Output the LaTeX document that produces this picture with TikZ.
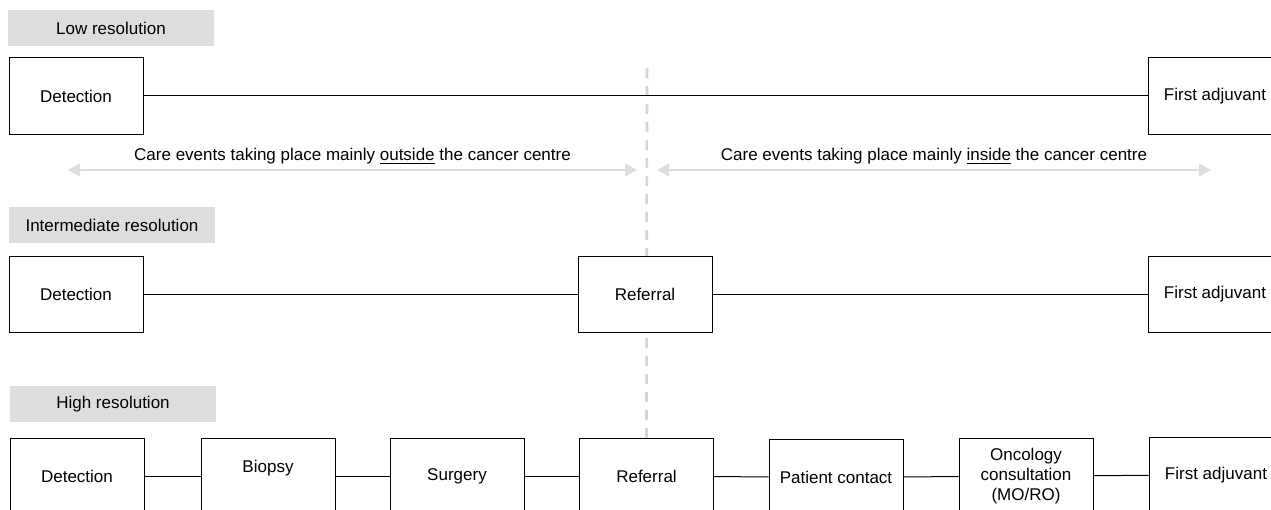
\documentclass[tikz,border=0pt]{standalone}
\usepackage{fontspec}
\setmainfont{Liberation Sans}
\usepackage{tikz}
\usetikzlibrary{arrows.meta,backgrounds}
\definecolor{tagfill}{HTML}{DDDDDD}
\definecolor{dividergray}{HTML}{D4D4D4}
\definecolor{spangray}{HTML}{DDDDDD}

\begin{document}
\begin{tikzpicture}[x=0.75pt, y=-0.75pt,
		event/.style={draw=black, fill=white, line width=0.75pt, minimum width=100.5pt, minimum height=57pt, inner sep=2pt, align=center},
		tag/.style={fill=tagfill, minimum width=155pt, minimum height=27pt, inner sep=0pt},
		link/.style={line width=0.75pt, color=black},
		divider/.style={line width=2pt, color=dividergray, dash pattern=on 7.5pt off 6pt},
		span/.style={line width=1.6pt, color=spangray, arrows={Triangle[length=9pt,width=9.5pt]-Triangle[length=9pt,width=9.5pt]}},
		font=\fontsize{12.75}{15}\selectfont]
			%%%%% START %%%%%
			\useasboundingbox (0, 0) rectangle (1271, 510);
			\clip (0, 0) rectangle (1271, 510);
			
			% low resolution
			\node[tag] (tlow) at (111, 28) {Low resolution};
			\node[event] (det1) at (76, 96) {Detection};
			\node[event] (adj1) at (1215, 96) {First adjuvant};
			\draw[link] (det1) -- (adj1);
			
			% outside / inside spans
			\coordinate (outl) at (68, 170);
			\coordinate (outr) at (637, 170);
			\coordinate (inl) at (657, 170);
			\coordinate (inr) at (1211, 170);
			\draw[span] (outl) -- (outr) node[midway, above, text=black] {Care events taking place mainly \underline{outside} the cancer centre};
			\draw[span] (inl) -- (inr) node[midway, above, text=black] {Care events taking place mainly \underline{inside} the cancer centre};
			
			% intermediate resolution
			\node[tag] (tmid) at (112, 225) {Intermediate resolution};
			\node[event] (det2) at (76, 294) {Detection};
			\node[event] (ref2) at (645, 294) {Referral};
			\node[event] (adj2) at (1215, 294) {First adjuvant};
			\draw[link] (det2) -- (ref2);
			\draw[link] (ref2) -- (adj2);
			
			% high resolution
			\node[tag] (thigh) at (113, 404) {High resolution};
			\node[event] (det3) at (77, 476) {Detection};
			\node[event, label={[yshift=6pt]center:Biopsy}] (bio3) at (268, 476) {};
			\node[event] (sur3) at (457, 476) {Surgery};
			\node[event] (ref3) at (646.5, 476) {Referral};
			\node[event] (pat3) at (836, 477.5) {Patient contact};
			\node[event] (onc3) at (1026, 476) {Oncology\\consultation\\(MO/RO)};
			\node[event] (adj3) at (1216, 475) {First adjuvant};
			\draw[link] (det3) -- (bio3);
			\draw[link] (bio3) -- (sur3);
			\draw[link] (sur3) -- (ref3);
			\draw[link] (ref3) -- (pat3);
			\draw[link] (pat3) -- (onc3);
			\draw[link] (onc3) -- (adj3);
			
			% divider between outside and inside, behind the boxes
			\coordinate (divtop) at (647, 68);
			\begin{scope}[on background layer]
				\draw[divider] (divtop) -- (ref3.north);
			\end{scope}
			%%%%% END %%%%%
\end{tikzpicture}
\end{document}
